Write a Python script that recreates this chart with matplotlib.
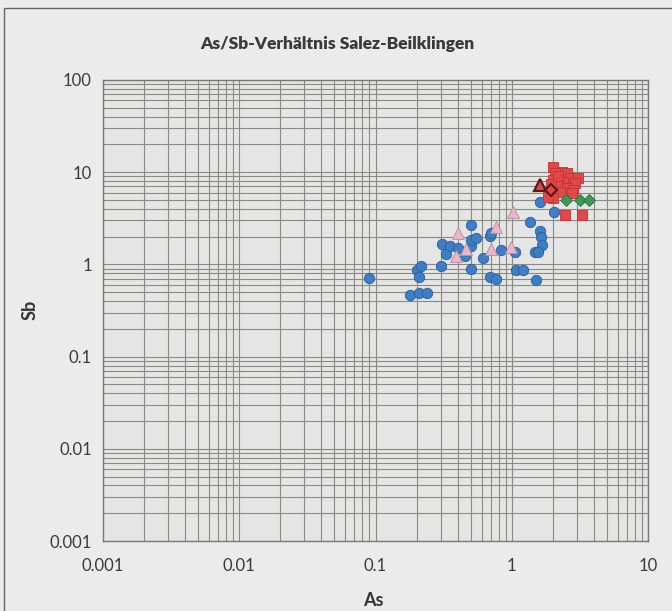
import matplotlib
matplotlib.use("Agg")
import matplotlib.pyplot as plt
from matplotlib.patches import Rectangle
from matplotlib.ticker import LogLocator, FixedLocator, NullFormatter

title = "As/Sb-Verhältnis Salez-Beilklingen"
x_label = "As"
y_label = "Sb"
x_ticks = [0.001, 0.01, 0.1, 1, 10]
x_tick_labels = ["0.001", "0.01", "0.1", "1", "10"]
y_ticks = [0.001, 0.01, 0.1, 1, 10, 100]
y_tick_labels = ["0.001", "0.01", "0.1", "1", "10", "100"]

# blue circles
blue_as = [0.09, 0.18, 0.21, 0.24, 0.20, 0.215, 0.21, 0.30, 0.31, 0.33, 0.35, 0.40,
           0.50, 0.50, 0.50, 0.55, 0.50, 0.61, 0.69, 0.70, 0.84, 1.06, 1.07, 1.20,
           0.69, 0.76, 1.37, 1.60, 1.64, 1.66, 1.47, 1.57, 1.51, 1.61, 2.03, 0.45]
blue_sb = [0.71, 0.46, 0.49, 0.49, 0.86, 0.97, 0.73, 0.97, 1.65, 1.31, 1.57, 1.52,
           2.70, 1.60, 1.84, 1.92, 0.89, 1.18, 2.03, 2.20, 1.43, 1.35, 0.87, 0.87,
           0.73, 0.70, 2.86, 2.30, 1.97, 1.62, 1.36, 1.36, 0.68, 4.75, 3.73, 1.23]

# pink triangles
pink_as = [1.02, 0.40, 0.77, 0.71, 0.99, 0.46, 0.39]
pink_sb = [3.73, 2.21, 2.53, 1.48, 1.53, 1.48, 1.23]

# red squares
red_as = [2.02, 2.33, 2.08, 2.53, 2.68, 3.08, 2.20, 2.02, 2.39, 2.91, 2.14, 2.53,
          2.83, 1.91, 2.26, 2.75, 2.02, 1.85, 2.46, 3.26, 1.95, 2.20]
red_sb = [11.5, 10.1, 9.7, 9.7, 8.6, 8.6, 8.6, 8.2, 7.9, 7.6, 7.0, 6.7,
          6.4, 6.1, 6.1, 5.9, 5.2, 5.4, 3.43, 3.43, 7.5, 9.0]

# dark-outlined red triangle and diamond
dtri_as = [1.61]
dtri_sb = [7.3]
ddia_as = [1.93]
ddia_sb = [6.4]

# green diamonds
green_as = [2.50, 3.17, 3.70]
green_sb = [5.0, 5.0, 5.0]

plt.rcParams['font.family'] = ['Lato', 'DejaVu Sans']

fig = plt.figure(figsize=(6.72, 6.11), dpi=100, facecolor="#ebebeb")
ax = fig.add_axes([103/672, 1-541/611, (648-103)/672, (541-80)/611])
ax.set_facecolor("#e5e5e5")

ax.set_xscale("log")
ax.set_yscale("log")
ax.set_xlim(0.001, 10)
ax.set_ylim(0.001, 100)

ax.xaxis.set_major_locator(FixedLocator(x_ticks))
ax.yaxis.set_major_locator(FixedLocator(y_ticks))
ax.set_xticklabels(x_tick_labels)
ax.set_yticklabels(y_tick_labels)
ax.xaxis.set_minor_locator(LogLocator(base=10, subs=range(2, 10), numticks=20))
ax.yaxis.set_minor_locator(LogLocator(base=10, subs=range(2, 10), numticks=20))
ax.xaxis.set_minor_formatter(NullFormatter())
ax.yaxis.set_minor_formatter(NullFormatter())
ax.tick_params(which="both", length=0)
ax.tick_params(axis="x", pad=12, labelsize=12, colors="#3a3a3a")
ax.tick_params(axis="y", pad=8, labelsize=12, colors="#3a3a3a")

ax.grid(True, which="both", color="#8a8a84", linewidth=0.8)
ax.set_axisbelow(True)
for s in ax.spines.values():
    s.set_color("#777777")
    s.set_linewidth(1.0)

ms = 7.5
ax.plot(blue_as, blue_sb, ls="none", marker="o", ms=ms, mfc="#3d7fc6", mec="#2b5d95", mew=0.6, zorder=3)
ax.plot(pink_as, pink_sb, ls="none", marker="^", ms=ms+1.5, mfc="#e9b5c9", mec="#b88a9c", mew=0.6, zorder=4)
ax.plot(red_as, red_sb, ls="none", marker="s", ms=ms, mfc="#e2484a", mec="#c43236", mew=0.6, zorder=5)
ax.plot(green_as, green_sb, ls="none", marker="D", ms=6.5, mfc="#3c9a52", mec="#2a6e3a", mew=0.6, zorder=6)
ax.plot(dtri_as, dtri_sb, ls="none", marker="^", ms=ms+1.5, mfc="#e2484a", mec="#5a1a1a", mew=1.6, zorder=7)
ax.plot(ddia_as, ddia_sb, ls="none", marker="D", ms=6.5, mfc="#e2484a", mec="#5a1a1a", mew=1.6, zorder=7)

fig.text(337/672, 1-44/611, title, ha="center", va="center", fontsize=12.5, fontweight="heavy", color="#3a3a3a")
fig.text(373/672, 1-601/611, x_label, ha="center", va="center", fontsize=13, fontweight="bold", color="#333333")
fig.text(30/672, 1-310/611, y_label, ha="center", va="center", rotation=90, fontsize=13, fontweight="bold", color="#333333")

fig.patches.append(Rectangle((4/672, -0.05), 1.1, 1.05 - 8/611, transform=fig.transFigure,
                             fill=False, edgecolor="#666666", linewidth=1.0))

fig.savefig("out.png", dpi=100, facecolor=fig.get_facecolor())
